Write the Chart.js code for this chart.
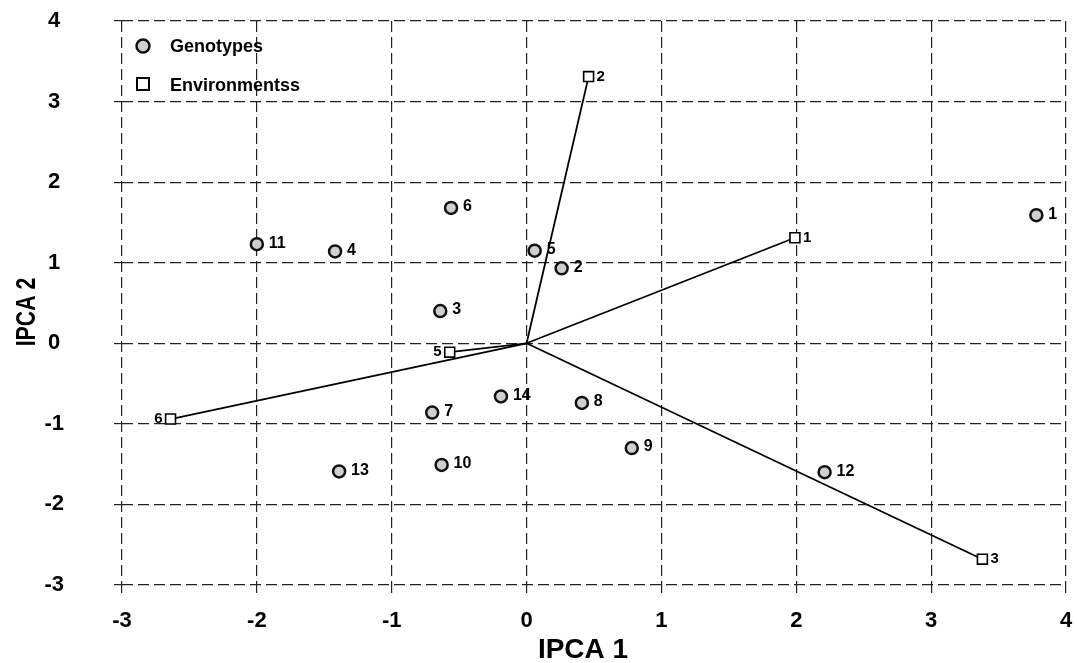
<!DOCTYPE html>
<html>
<head>
<meta charset="utf-8">
<script src="https://cdn.jsdelivr.net/npm/chart.js@4.4.1/dist/chart.umd.min.js"></script>
<style>
  html, body { margin: 0; padding: 0; background: #fff; }
  #wrap { width: 1077px; height: 663px; }
</style>
</head>
<body>
<div id="wrap"><canvas id="c" width="1077" height="663"></canvas></div>
<script>
// AMMI biplot: genotype and environment scores on the first two interaction axes
const genotypeIds   = ['1', '2', '3', '4', '5', '6', '7', '8', '9', '10', '11', '12', '13', '14'];
const genotypeIPCA1 = [3.78, 0.26, -0.64, -1.42, 0.06, -0.56, -0.70, 0.41, 0.78, -0.63, -2.00, 2.21, -1.39, -0.19];
const genotypeIPCA2 = [1.59, 0.93, 0.40, 1.14, 1.15, 1.68, -0.86, -0.74, -1.30, -1.51, 1.23, -1.60, -1.59, -0.66];

const environmentIds   = ['1', '2', '3', '5', '6'];
const environmentIPCA1 = [1.99, 0.46, 3.38, -0.57, -2.64];
const environmentIPCA2 = [1.31, 3.31, -2.68, -0.11, -0.94];

const xTickValues = [-3, -2, -1, 0, 1, 2, 3, 4];
const yTickValues = [-3, -2, -1, 0, 1, 2, 3, 4];

const legendLabels = ['Genotypes', 'Environmentss'];
const xTitle = 'IPCA 1';
const yTitle = 'IPCA 2';

const FONT = '"Liberation Sans", Arial, Helvetica, sans-serif';

const genotypePoints = genotypeIds.map((id, i) => ({ x: genotypeIPCA1[i], y: genotypeIPCA2[i], id }));
const environmentPoints = environmentIds.map((id, i) => ({ x: environmentIPCA1[i], y: environmentIPCA2[i], id }));

// one vector from the origin to each environment score
const vectorDatasets = environmentPoints.map(p => ({
  type: 'line',
  label: 'vector ' + p.id,
  data: [{ x: 0, y: 0 }, { x: p.x, y: p.y }],
  borderColor: '#000',
  borderWidth: 1.8,
  pointRadius: 0,
  fill: false,
  order: 2
}));

const genotypeStyle = { pointStyle: 'circle', radius: 6, backgroundColor: '#cfcfcf', borderColor: '#111', borderWidth: 2.5 };
const environmentStyle = { pointStyle: 'rect', radius: 7, backgroundColor: '#fff', borderColor: '#000', borderWidth: 1.6 };

const pointLabels = {
  id: 'pointLabels',
  afterDatasetsDraw(chart) {
    const ctx = chart.ctx;
    ctx.save();
    ctx.fillStyle = '#000';
    ctx.textBaseline = 'middle';
    chart.data.datasets.forEach((ds, di) => {
      if (!ds.pointKind) return;
      const meta = chart.getDatasetMeta(di);
      meta.data.forEach((el, i) => {
        const item = ds.data[i];
        if (ds.pointKind === 'genotype') {
          ctx.font = 'bold 16px ' + FONT;
          ctx.textAlign = 'left';
          ctx.fillText(item.id, el.x + 12, el.y - 1);
        } else {
          ctx.font = 'bold 15px ' + FONT;
          if (item.x < 0) {
            ctx.textAlign = 'right';
            ctx.fillText(item.id, el.x - 8, el.y);
          } else {
            ctx.textAlign = 'left';
            ctx.fillText(item.id, el.x + 8, el.y);
          }
        }
      });
    });
    ctx.restore();
  }
};

const legendAndTitles = {
  id: 'legendAndTitles',
  afterDraw(chart) {
    const ctx = chart.ctx;
    const area = chart.chartArea;
    ctx.save();
    // legend inside the plot, top left
    const lx = area.left + 21;
    const ly1 = area.top + 25;
    const ly2 = area.top + 63;
    ctx.beginPath();
    ctx.arc(lx, ly1, 6.5, 0, Math.PI * 2);
    ctx.fillStyle = genotypeStyle.backgroundColor;
    ctx.fill();
    ctx.lineWidth = 2.5;
    ctx.strokeStyle = genotypeStyle.borderColor;
    ctx.stroke();
    ctx.fillStyle = '#fff';
    ctx.fillRect(lx - 6, ly2 - 6, 12, 12);
    ctx.lineWidth = 2;
    ctx.strokeStyle = '#000';
    ctx.strokeRect(lx - 6, ly2 - 6, 12, 12);
    ctx.fillStyle = '#000';
    ctx.font = 'bold 18px ' + FONT;
    ctx.textAlign = 'left';
    ctx.textBaseline = 'middle';
    ctx.fillText(legendLabels[0], lx + 27, ly1 + 1);
    ctx.fillText(legendLabels[1], lx + 27, ly2 + 2);

    // axis titles
    ctx.font = 'bold 28px ' + FONT;
    ctx.textAlign = 'center';
    ctx.textBaseline = 'alphabetic';
    ctx.fillText(xTitle, 583, 658);

    ctx.translate(35, 312);
    ctx.rotate(-Math.PI / 2);
    ctx.scale(0.76, 1);
    ctx.fillText(yTitle, 0, 0);
    ctx.restore();
  }
};

const axisCommon = {
  type: 'linear',
  border: { display: false, dash: [11, 5] },
  grid: {
    color: '#222',
    lineWidth: 1.2,
    drawTicks: true,
    tickLength: 8,
    tickColor: '#222',
    tickWidth: 1.2,
    tickBorderDash: []
  }
};

new Chart(document.getElementById('c'), {
  type: 'scatter',
  data: {
    datasets: [
      Object.assign({ label: legendLabels[0], data: genotypePoints, pointKind: 'genotype', order: 0 },
        {
          pointStyle: genotypeStyle.pointStyle, pointRadius: genotypeStyle.radius, pointHoverRadius: genotypeStyle.radius,
          pointBackgroundColor: genotypeStyle.backgroundColor, pointBorderColor: genotypeStyle.borderColor,
          pointBorderWidth: genotypeStyle.borderWidth
        }),
      Object.assign({ label: legendLabels[1], data: environmentPoints, pointKind: 'environment', order: 1 },
        {
          pointStyle: environmentStyle.pointStyle, pointRadius: environmentStyle.radius, pointHoverRadius: environmentStyle.radius,
          pointBackgroundColor: environmentStyle.backgroundColor, pointBorderColor: environmentStyle.borderColor,
          pointBorderWidth: environmentStyle.borderWidth
        }),
      ...vectorDatasets
    ]
  },
  options: {
    responsive: false,
    animation: false,
    devicePixelRatio: 1,
    layout: { padding: { top: 21, right: 11, left: 0, bottom: 0 } },
    plugins: { legend: { display: false }, tooltip: { enabled: false } },
    scales: {
      x: Object.assign({}, axisCommon, {
        min: -3, max: 4,
        afterBuildTicks: s => { s.ticks = xTickValues.map(v => ({ value: v })); },
        afterFit: s => { s.height = 78; s.paddingLeft = 0; s.paddingRight = 0; },
        ticks: {
          color: '#000',
          padding: 15,
          maxRotation: 0,
          font: { family: FONT, size: 22, weight: 'bold' },
          callback: v => String(v)
        }
      }),
      y: Object.assign({}, axisCommon, {
        min: -3, max: 4,
        afterBuildTicks: s => { s.ticks = yTickValues.map(v => ({ value: v })); },
        afterFit: s => { s.width = 122; s.paddingTop = 0; s.paddingBottom = 0; },
        ticks: {
          color: '#000',
          padding: 50,
          crossAlign: 'center',
          font: { family: FONT, size: 22, weight: 'bold' },
          callback: v => String(v)
        }
      })
    }
  },
  plugins: [pointLabels, legendAndTitles]
});
</script>
</body>
</html>
